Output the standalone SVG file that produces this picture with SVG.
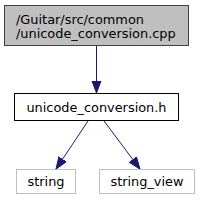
<svg xmlns="http://www.w3.org/2000/svg" width="203" height="201" viewBox="0 0 203 201">
<style>
text{font-family:"DejaVu Sans",sans-serif;font-size:12.9px;fill:#000}
.e{stroke:#191970;fill:none;stroke-width:1}
.ah{fill:#191970;stroke:#191970}
</style>
<defs>
<marker id="a" markerWidth="14" markerHeight="12" refX="12" refY="6" orient="auto" markerUnits="userSpaceOnUse"><path d="M0,1.5 L12,6 L0,10.5 Z" class="ah"/></marker>
</defs>
<rect width="203" height="201" fill="#fff"/>
<g id="edges">
<path class="e" d="M96.5,46 L96.5,93" marker-end="url(#a)"/>
<path class="e" d="M88,121 L56,169" marker-end="url(#a)"/>
<path class="e" d="M104,121 L140,169" marker-end="url(#a)"/>
</g>
<g id="node1">
<rect x="4.5" y="5.5" width="184" height="40" fill="#bfbfbf" stroke="#404040"/>
<text x="16" y="23.5">/Guitar/src/common</text>
<text x="16" y="38">/unicode_conversion.cpp</text>
</g>
<g id="node2">
<rect x="14.5" y="93.5" width="164" height="27" fill="#fff" stroke="#000"/>
<text x="96.5" y="111.5" text-anchor="middle">unicode_conversion.h</text>
</g>
<g id="node3">
<rect x="16.5" y="169.5" width="59" height="24" fill="#fff" stroke="#bfbfbf"/>
<text x="46" y="186" text-anchor="middle">string</text>
</g>
<g id="node4">
<rect x="99.5" y="169.5" width="95" height="24" fill="#fff" stroke="#bfbfbf"/>
<text x="147" y="186" text-anchor="middle">string_view</text>
</g>
</svg>
